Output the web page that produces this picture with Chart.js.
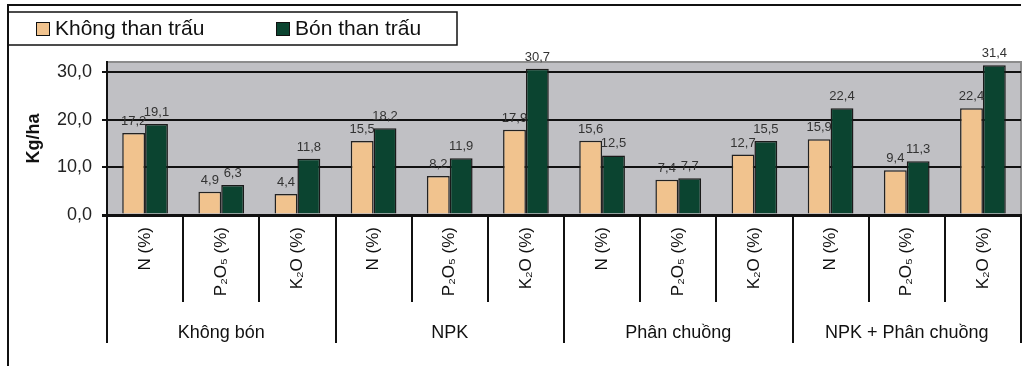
<!DOCTYPE html>
<html>
<head>
<meta charset="utf-8">
<script src="https://cdn.jsdelivr.net/npm/chart.js@4/dist/chart.umd.min.js"></script>
<style>
  body { margin: 0; background: #fff; }
  canvas { display: block; }
</style>
</head>
<body>
<canvas id="nutrientChart" width="1028" height="366"></canvas>
<script>
// categories and values
var subLabels = ["N (%)", "P₂O₅ (%)", "K₂O (%)", "N (%)", "P₂O₅ (%)", "K₂O (%)",
  "N (%)", "P₂O₅ (%)", "K₂O (%)", "N (%)", "P₂O₅ (%)", "K₂O (%)"];
var groupLabels = ["Không bón", "NPK", "Phân chuồng", "NPK + Phân chuồng"];
var seriesNames = ["Không than trấu", "Bón than trấu"];
var khongThanTrau = [17.2, 4.9, 4.4, 15.5, 8.2, 17.9, 15.6, 7.4, 12.7, 15.9, 9.4, 22.4];
var bonThanTrau = [19.1, 6.3, 11.8, 18.2, 11.9, 30.7, 12.5, 7.7, 15.5, 22.4, 11.3, 31.4];
var yTicks = [0, 10, 20, 30];

var orange = "#f1c38e";
var green = "#0b4430";
var font = "'Liberation Sans', Arial, sans-serif";

function fmt(v) {
  return v.toFixed(1).replace(".", ",");
}

// gray plot area, separators, group names, legend box and frame
var decorPlugin = {
  id: "decor",
  beforeDraw: function (chart) {
    var ctx = chart.ctx, a = chart.chartArea;
    ctx.save();
    ctx.fillStyle = "#fff";
    ctx.fillRect(0, 0, chart.width, chart.height);
    ctx.fillStyle = "#c0c0c4";
    ctx.fillRect(a.left, a.top, a.right - a.left, a.bottom - a.top);
    ctx.strokeStyle = "#8c8c8c";
    ctx.lineWidth = 2;
    ctx.beginPath();
    ctx.moveTo(a.left, a.top);
    ctx.lineTo(a.right, a.top);
    ctx.lineTo(a.right, a.bottom);
    ctx.stroke();
    ctx.restore();
  },
  afterDatasetsDraw: function (chart) {
    var ctx = chart.ctx;
    ctx.save();
    ctx.font = "13px " + font;
    ctx.fillStyle = "#333";
    ctx.textAlign = "center";
    ctx.textBaseline = "bottom";
    chart.data.datasets.forEach(function (ds, i) {
      chart.getDatasetMeta(i).data.forEach(function (bar, j) {
        ctx.fillText(fmt(ds.data[j]), bar.x, bar.y - 5);
      });
    });
    ctx.restore();
  },
  afterDraw: function (chart) {
    var ctx = chart.ctx, a = chart.chartArea, x = chart.scales.x;
    ctx.save();
    ctx.strokeStyle = "#111";
    ctx.lineWidth = 2;
    for (var i = 0; i <= subLabels.length; i++) {
      var px = Math.round(x.getPixelForValue(i - 0.5));
      ctx.beginPath();
      ctx.moveTo(px, a.bottom);
      ctx.lineTo(px, i % 3 === 0 ? 343 : 302);
      ctx.stroke();
    }
    ctx.fillStyle = "#111";
    ctx.font = "18px " + font;
    ctx.textAlign = "center";
    ctx.textBaseline = "middle";
    groupLabels.forEach(function (g, k) {
      ctx.fillText(g, x.getPixelForValue(k * 3 + 1), 333);
    });

    // outer frame
    ctx.lineWidth = 2;
    ctx.beginPath();
    ctx.moveTo(8, 366);
    ctx.lineTo(8, 5);
    ctx.lineTo(1021, 5);
    ctx.stroke();

    // legend
    ctx.lineWidth = 1.5;
    ctx.strokeRect(8, 12, 449, 33);
    ctx.font = "21px " + font;
    ctx.textAlign = "left";
    var items = [[36, orange], [276, green]];
    items.forEach(function (it, k) {
      ctx.fillStyle = it[1];
      ctx.fillRect(it[0], 22, 13, 13);
      ctx.lineWidth = 1;
      ctx.strokeRect(it[0] + 0.5, 22.5, 13, 13);
      ctx.fillStyle = "#111";
      ctx.fillText(seriesNames[k], it[0] + 19, 29);
    });
    ctx.restore();
  }
};

var ctx = document.getElementById("nutrientChart").getContext("2d");

var myChart = new Chart(ctx, {
  type: "bar",
  data: {
    labels: subLabels,
    datasets: [
      {
        label: seriesNames[0],
        data: khongThanTrau,
        backgroundColor: orange,
        borderColor: "#222",
        borderWidth: 1.5,
      },
      {
        label: seriesNames[1],
        data: bonThanTrau,
        backgroundColor: green,
        borderColor: "#1a1a1a",
        borderWidth: 1.5,
      },
    ],
  },
  options: {
    responsive: false,
    animation: false,
    devicePixelRatio: 1,
    layout: { padding: { top: 62, right: 7, left: 0, bottom: 0 } },
    plugins: {
      legend: { display: false },
      tooltip: { enabled: false },
    },
    datasets: {
      bar: { categoryPercentage: 0.6, barPercentage: 1 },
    },
    scales: {
      x: {
        grid: { display: false, drawTicks: false },
        border: { color: "#111", width: 3 },
        ticks: {
          autoSkip: false,
          minRotation: 90,
          maxRotation: 90,
          padding: 12,
          color: "#111",
          font: { family: font, size: 17 },
        },
        afterFit: function (s) { s.height = 151; },
      },
      y: {
        min: 0,
        max: 32.1,
        afterBuildTicks: function (s) {
          s.ticks = yTicks.map(function (v) { return { value: v }; });
        },
        grid: {
          color: "#111",
          lineWidth: function (c) { return c.tick && c.tick.value === 0 ? 3 : 2; },
          tickLength: 5,
        },
        border: { color: "#111", width: 2 },
        ticks: {
          padding: 10,
          color: "#222",
          font: { family: font, size: 18 },
          callback: function (v) { return fmt(v); },
        },
        title: {
          display: true,
          text: "Kg/ha",
          color: "#111",
          padding: { top: 23, bottom: 0 },
          font: { family: font, size: 18, weight: "bold" },
        },
        afterFit: function (s) { s.width = 107; },
      },
    },
  },
  plugins: [decorPlugin],
});
</script>
</body>
</html>
